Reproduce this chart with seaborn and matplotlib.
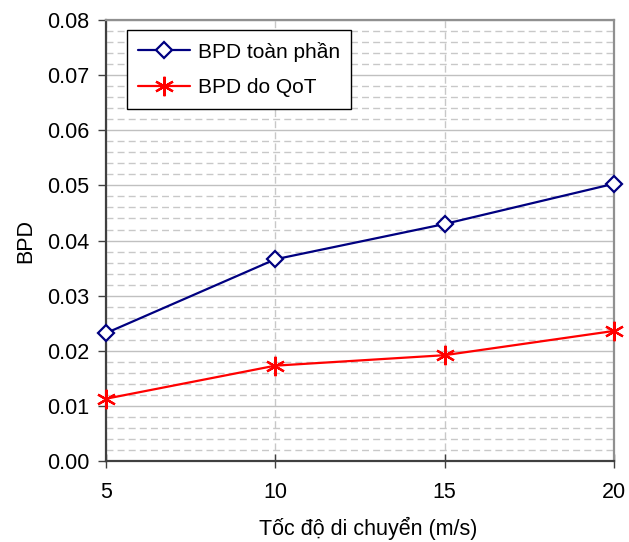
import matplotlib
matplotlib.use("Agg")
import matplotlib.pyplot as plt
from matplotlib.ticker import MultipleLocator, FormatStrFormatter
from matplotlib.lines import Line2D
import seaborn as sns

# Mobility speed (m/s) and blocking probabilities
speeds = [5, 10, 15, 20]
bpd_total = [0.0232, 0.0366, 0.0430, 0.0503]
bpd_qot = [0.0113, 0.0173, 0.0192, 0.0236]
series_names = ["BPD toàn phần", "BPD do QoT"]
xticks = [5, 10, 15, 20]

sns.set_theme(style="white")
plt.rcParams["font.family"] = ["Liberation Sans", "DejaVu Sans"]
plt.rcParams["text.color"] = "black"
plt.rcParams["axes.labelcolor"] = "black"
plt.rcParams["xtick.color"] = "black"
plt.rcParams["ytick.color"] = "black"

FS = 15.5

fig = plt.figure(figsize=(6.29, 5.42), dpi=100)
ax = fig.add_axes([0.1685, 0.1494, 0.8075, 0.8136])

blue_style = dict(color="#000080", marker="D", markerfacecolor="white",
                  markeredgecolor="#000080", markeredgewidth=1.6, markersize=8,
                  linewidth=1.6)
red_style = dict(color="#ff0000", marker=(6, 2, 0), markeredgecolor="#ff0000",
                 markeredgewidth=1.6, markersize=14, linewidth=1.6)

sns.lineplot(x=speeds, y=bpd_total, ax=ax, clip_on=False, zorder=5, **blue_style)
sns.lineplot(x=speeds, y=bpd_qot, ax=ax, clip_on=False, zorder=5, **red_style)

ax.set_xlim(5, 20)
ax.set_ylim(0, 0.08)
ax.set_xticks(xticks)
ax.yaxis.set_major_locator(MultipleLocator(0.01))
ax.yaxis.set_minor_locator(MultipleLocator(0.002))
ax.yaxis.set_major_formatter(FormatStrFormatter("%.2f"))

ax.grid(True, which="major", axis="y", color="#c0c0c0", linewidth=1.0, linestyle="-")
ax.grid(True, which="minor", axis="y", color="#c8c8c8", linewidth=1.0, linestyle=(0, (5, 3)))
ax.grid(True, which="major", axis="x", color="#c8c8c8", linewidth=1.0, linestyle=(0, (5, 3)))
ax.set_axisbelow(True)

for side in ("left", "bottom"):
    ax.spines[side].set_color("#404040")
    ax.spines[side].set_linewidth(1.6)
for side in ("top", "right"):
    ax.spines[side].set_color("#909090")
    ax.spines[side].set_linewidth(1.6)

ax.tick_params(axis="y", which="major", direction="out", length=6, width=1.0,
               color="#404040", labelsize=FS, pad=6, left=True)
ax.tick_params(axis="y", which="minor", length=0)
ax.tick_params(axis="x", which="major", direction="inout", length=10, width=1.0,
               color="#404040", labelsize=FS, pad=10, bottom=True)

ax.set_xlabel("Tốc độ di chuyển (m/s)", fontsize=FS, labelpad=10, x=0.516)
ax.set_ylabel("BPD", fontsize=FS, labelpad=8)

LFS = 15
handles = [Line2D([], [], **blue_style), Line2D([], [], **red_style)]
leg = ax.legend(handles, series_names, loc="upper left", bbox_to_anchor=(0.041, 0.977),
                borderaxespad=0, fontsize=LFS, frameon=True, fancybox=False,
                edgecolor="black", framealpha=1, handlelength=2.5, borderpad=0.55,
                labelspacing=0.8, handletextpad=0.35)
leg.get_frame().set_linewidth(1.0)

fig.savefig("out.png", dpi=100)
